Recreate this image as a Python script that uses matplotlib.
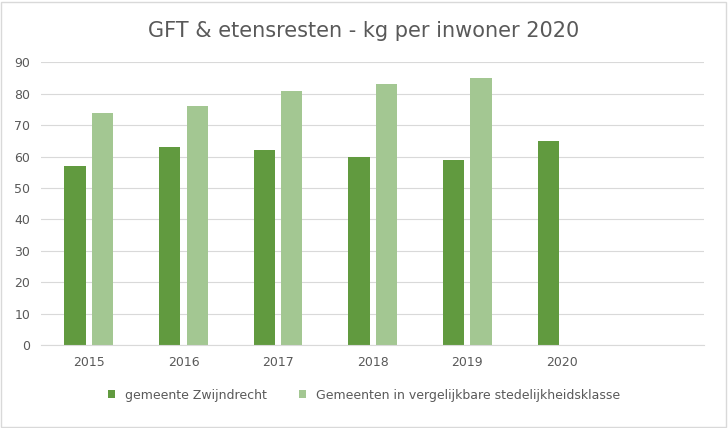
import numpy as np
import matplotlib
matplotlib.use("Agg")
import matplotlib.pyplot as plt

years = ["2015", "2016", "2017", "2018", "2019", "2020", ""]
zwijndrecht = [57, 63, 62, 60, 59, 65, np.nan]
vergelijkbaar = [74, 76, 81, 83, 85, np.nan, np.nan]

dark = "#619A3F"
light = "#A3C792"

fig = plt.figure(figsize=(7.28, 4.28), dpi=100)
ax = fig.add_axes([0.057, 0.194, 0.910, 0.660])
x = np.arange(len(years))
w = 0.225
ax.bar(x - 0.145, zwijndrecht, w, color=dark, label="gemeente Zwijndrecht")
ax.bar(x + 0.145, vergelijkbaar, w, color=light,
       label="Gemeenten in vergelijkbare stedelijkheidsklasse")

ax.set_xlim(-0.5, len(years) - 0.5)
ax.set_ylim(0, 90)
ax.set_yticks(range(0, 91, 10))
ax.set_xticks(x)
ax.set_xticklabels(years)
ax.tick_params(length=0, labelsize=9, colors="#595959", pad=8)
ax.grid(axis="y", color="#D9D9D9", linewidth=0.8)
ax.set_axisbelow(True)
for s in ["top", "right", "left"]:
    ax.spines[s].set_visible(False)
ax.spines["bottom"].set_color("#D9D9D9")

fig.suptitle("GFT & etensresten - kg per inwoner 2020", y=0.95,
             fontsize=15, color="#595959")
fig.legend(loc="lower center", bbox_to_anchor=(0.5, 0.035), ncol=2,
           frameon=False, fontsize=9, labelcolor="#595959",
           handlelength=0.6, handleheight=0.6, columnspacing=2.5)

fig.patches.append(plt.Rectangle((0.002, 0.003), 0.995, 0.993,
                                 transform=fig.transFigure, fill=False,
                                 edgecolor="#D9D9D9", linewidth=1))
fig.savefig("out.png", dpi=100)
